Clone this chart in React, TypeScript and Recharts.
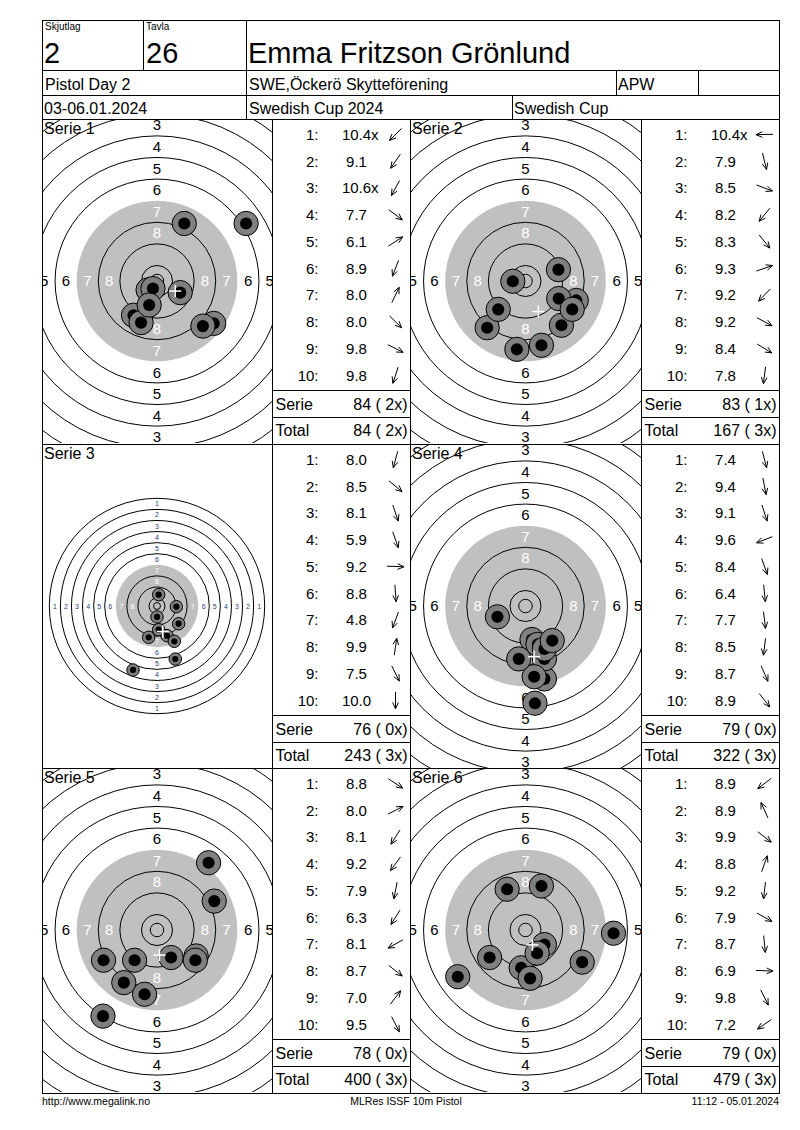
import React from 'react';
import { ScatterChart, Scatter, XAxis, YAxis } from 'recharts';

const FONT = '"Liberation Sans", Arial, Helvetica, sans-serif';

// ---------- target geometry (ISSF 10 m air pistol, mm) ----------
const RING_VALUES = [1, 2, 3, 4, 5, 6, 7, 8, 9, 10];
const RING_RADII_MM = [77.75, 69.75, 61.75, 53.75, 45.75, 37.75, 29.75, 21.75, 13.75, 5.75];
const INNER_TEN_RADIUS_MM = 2.5;
const PELLET_DIAMETER_MM = 4.5;
const LABELLED_RINGS = [1, 2, 3, 4, 5, 6, 7, 8];
const BLACK_FROM_RING = 7;

// ---------- header / footer texts ----------
const HEADER_SQUAD_LABEL = 'Skjutlag';
const HEADER_SQUAD = '2';
const HEADER_TARGET_LABEL = 'Tavla';
const HEADER_TARGET = '26';
const HEADER_NAME = 'Emma Fritzson Grönlund';
const HEADER_EVENT = 'Pistol Day 2';
const HEADER_CLUB = 'SWE,Öckerö Skytteförening';
const HEADER_CLASS = 'APW';
const HEADER_DATE = '03-06.01.2024';
const HEADER_COMPETITION = 'Swedish Cup 2024';
const HEADER_CUP = 'Swedish Cup';
const FOOTER_LEFT = 'http://www.megalink.no';
const FOOTER_CENTER = 'MLRes ISSF 10m Pistol';
const FOOTER_RIGHT = '11:12 - 05.01.2024';

// ---------- series ----------
const SERIES_TITLES = ['Serie 1', 'Serie 2', 'Serie 3', 'Serie 4', 'Serie 5', 'Serie 6'];
const SHOT_NUMBERS = [1, 2, 3, 4, 5, 6, 7, 8, 9, 10];

// shot positions relative to target centre, mm (x right, y up)
const serie1X = [-3.3, -8.7, -1.5, 21.0, 33.0, -5.9, 10.1, 17.0, 8.6, -2.9];
const serie1Y = [-3.3, -12.7, -2.8, -15.7, 21.3, -15.4, 21.3, -16.7, -4.3, -8.9];
const serie1Scores = ['10.4x', '9.1', '10.6x', '7.7', '6.1', '8.9', '8.0', '8.0', '9.8', '9.8'];

const serie2X = [-4.7, 5.9, 18.8, -14.2, 13.3, 12.2, -10.1, 12.3, 17.3, -3.2];
const serie2Y = [-0.1, -23.8, -7.2, -17.3, -16.4, 4.2, -10.5, -6.5, -10.5, -25.3];
const serie2Scores = ['10.4x', '7.9', '8.5', '8.2', '8.3', '9.3', '9.2', '9.2', '8.4', '7.8'];

const serie3X = [-6.0, 15.6, 7.2, 13.2, 14.0, 1.2, -17.3, 1.2, 12.5, 0.0];
const serie3Y = [-22.6, -12.8, -21.4, -38.3, -0.5, -17.1, -46.2, 8.2, -25.5, -7.9];
const serie3Scores = ['8.0', '8.5', '8.1', '5.9', '9.2', '8.8', '4.8', '9.9', '7.5', '10.0'];

const serie4X = [7.0, 2.4, 4.6, -10.4, 7.0, 3.5, 3.2, -2.5, 7.0, 9.9];
const serie4Y = [-27.0, -12.4, -14.2, -4.0, -19.6, -36.0, -26.2, -19.6, -15.9, -12.8];
const serie4Scores = ['7.4', '9.4', '9.1', '9.6', '8.4', '6.4', '7.7', '8.5', '8.7', '8.9'];

const serie5X = [14.5, 21.2, -12.3, -8.3, -4.6, -20.0, -19.8, 14.2, 19.1, 5.2];
const serie5Y = [-9.6, 10.7, -19.5, -11.2, -23.8, -31.9, -11.2, -11.2, 24.9, -10.2];
const serie5Scores = ['8.8', '8.0', '8.1', '9.2', '7.9', '6.3', '8.1', '8.7', '7.0', '9.5'];

const serie6X = [-13.3, -6.8, 7.0, 5.9, -1.6, 21.0, 1.7, 32.6, 4.3, -25.1];
const serie6Y = [-10.2, 15.1, -5.4, 16.3, -14.0, -11.9, -17.9, -1.2, -8.6, -17.3];
const serie6Scores = ['8.9', '8.9', '9.9', '8.8', '9.2', '7.9', '8.7', '6.9', '9.8', '7.2'];

const SERIES_X = [serie1X, serie2X, serie3X, serie4X, serie5X, serie6X];
const SERIES_Y = [serie1Y, serie2Y, serie3Y, serie4Y, serie5Y, serie6Y];
const SERIES_SCORES = [serie1Scores, serie2Scores, serie3Scores, serie4Scores, serie5Scores, serie6Scores];

// ---------- layout ----------
const TARGET_LEFT = [42.5, 410.5];
const SCORE_LEFT = [272.5, 641.5];
const SCORE_RIGHT = [410.5, 779.5];
const ROW_TOP = [119.5, 444.5, 768.5];
const PAGE_TOP = 20.5;
const PAGE_BOTTOM = 1093.5;
const PAGE_LEFT = 42.5;
const PAGE_RIGHT = 779.5;
const TARGET_PX_PER_MM = [2.7, 2.7, 1.385, 2.7, 2.7, 2.7];

const avg = (a: number[]) => a.reduce((s, v) => s + v, 0) / a.length;

function Target({ xs, ys, k, width, height }: { xs: number[]; ys: number[]; k: number; width: number; height: number }) {
  const xHalf = width / 2 / k;
  const yHalf = height / 2 / k;
  const rings = RING_RADII_MM.map((r, i) => ({ x: 0, y: 0, r, v: RING_VALUES[i] }));
  const innerTen = [{ x: 0, y: 0, r: INNER_TEN_RADIUS_MM, v: 11 }];
  const labels: { x: number; y: number; v: number }[] = [];
  LABELLED_RINGS.forEach((v) => {
    const i = RING_VALUES.indexOf(v);
    const m = (RING_RADII_MM[i] + RING_RADII_MM[i + 1]) / 2;
    labels.push({ x: -m, y: 0, v }, { x: m, y: 0, v }, { x: 0, y: m, v }, { x: 0, y: -m, v });
  });
  const shots = xs.map((x, i) => ({ x, y: ys[i] }));
  const mean = [{ x: avg(xs), y: avg(ys) }];
  const big = k > 2;
  const fs = big ? 15 : 7;

  const ringShape = (p: any) => {
    const { cx, cy, payload } = p;
    const r = payload.r * k;
    if (payload.v === BLACK_FROM_RING) {
      return <circle cx={cx} cy={cy} r={r} fill="#c0c0c0" stroke="none" />;
    }
    return (
      <circle
        cx={cx}
        cy={cy}
        r={r}
        fill={payload.v < BLACK_FROM_RING ? '#ffffff' : 'none'}
        stroke="#000"
        strokeWidth={1}
      />
    );
  };
  const labelShape = (p: any) => {
    const { cx, cy, payload } = p;
    const onBlack = payload.v >= BLACK_FROM_RING;
    return (
      <text
        x={cx}
        y={cy + fs * 0.36}
        textAnchor="middle"
        fontSize={fs}
        fontFamily={FONT}
        fill={onBlack ? '#ffffff' : big ? '#000' : '#2c3f78'}
      >
        {payload.v}
      </text>
    );
  };
  const shotShape = (p: any) => {
    const { cx, cy } = p;
    return (
      <g>
        <circle cx={cx} cy={cy} r={PELLET_DIAMETER_MM * k} fill="#808080" stroke="#000" strokeWidth={1} />
        <circle cx={cx} cy={cy} r={(PELLET_DIAMETER_MM / 2) * k} fill="#000" />
      </g>
    );
  };
  const meanShape = (p: any) => {
    const { cx, cy } = p;
    const s = 6;
    return (
      <g stroke="#fff" strokeWidth={1.5}>
        <line x1={cx - s} y1={cy} x2={cx + s} y2={cy} />
        <line x1={cx} y1={cy - s} x2={cx} y2={cy + s} />
      </g>
    );
  };

  return (
    <ScatterChart width={width} height={height} margin={{ top: 0, right: 0, bottom: 0, left: 0 }}>
      <XAxis type="number" dataKey="x" domain={[-xHalf, xHalf]} allowDataOverflow hide />
      <YAxis type="number" dataKey="y" domain={[-yHalf, yHalf]} allowDataOverflow hide />
      <Scatter data={rings} isAnimationActive={false} shape={ringShape} />
      <Scatter data={innerTen} isAnimationActive={false} shape={ringShape} />
      <Scatter data={labels} isAnimationActive={false} shape={labelShape} />
      <Scatter data={shots} isAnimationActive={false} shape={shotShape} />
      <Scatter data={mean} isAnimationActive={false} shape={meanShape} />
    </ScatterChart>
  );
}

function Arrow({ cx, cy, dx, dy }: { cx: number; cy: number; dx: number; dy: number }) {
  const phi = Math.atan2(-dy, dx); // screen angle
  const L = 8.5;
  const ux = Math.cos(phi);
  const uy = Math.sin(phi);
  const tx = cx + ux * L;
  const ty = cy + uy * L;
  const sx = cx - ux * L;
  const sy = cy - uy * L;
  const h = 7;
  const sp = 0.42;
  const a1 = phi + Math.PI + sp;
  const a2 = phi + Math.PI - sp;
  return (
    <g stroke="#000" strokeWidth={1} fill="none">
      <line x1={sx} y1={sy} x2={tx} y2={ty} />
      <line x1={tx} y1={ty} x2={tx + h * Math.cos(a1)} y2={ty + h * Math.sin(a1)} />
      <line x1={tx} y1={ty} x2={tx + h * Math.cos(a2)} y2={ty + h * Math.sin(a2)} />
    </g>
  );
}

function ScoreTable({ idx, cumTotal, cumX }: { idx: number; cumTotal: number; cumX: number }) {
  const col = idx % 2;
  const row = Math.floor(idx / 2);
  const x0 = SCORE_LEFT[col];
  const x1 = SCORE_RIGHT[col];
  const top = ROW_TOP[row];
  const scores = SERIES_SCORES[idx];
  const xs = SERIES_X[idx];
  const ys = SERIES_Y[idx];
  const sum = scores.reduce((s, v) => s + Math.floor(parseFloat(v)), 0);
  const nx = scores.filter((v) => v.endsWith('x')).length;
  return (
    <g fontFamily={FONT} fill="#000">
      {SHOT_NUMBERS.map((n, j) => {
        const cy = top + 15 + j * 26.75;
        const s = scores[j];
        const isX = s.endsWith('x');
        const num = isX ? s.slice(0, -1) : s;
        return (
          <g key={n}>
            <text x={x0 + 46} y={cy + 5.4} fontSize={15} textAnchor="end">
              {n}:
            </text>
            <text x={x0 + 84} y={cy + 5.4} fontSize={15} textAnchor="middle">
              {num}
            </text>
            {isX && (
              <text x={x0 + 98.6} y={cy + 5.4} fontSize={15}>
                x
              </text>
            )}
            <Arrow cx={x0 + 123} cy={cy} dx={xs[j]} dy={ys[j]} />
          </g>
        );
      })}
      <line x1={x0} y1={top + 271} x2={x1} y2={top + 271} stroke="#000" />
      <line x1={x0} y1={top + 298} x2={x1} y2={top + 298} stroke="#000" />
      <text x={x0 + 3} y={top + 290} fontSize={16}>
        Serie
      </text>
      <text x={x1 - 3} y={top + 290} fontSize={16} textAnchor="end">
        {`${sum} ( ${nx}x)`}
      </text>
      <text x={x0 + 3} y={top + 316} fontSize={16}>
        Total
      </text>
      <text x={x1 - 3} y={top + 316} fontSize={16} textAnchor="end">
        {`${cumTotal} ( ${cumX}x)`}
      </text>
    </g>
  );
}

export default function App() {
  let runTotal = 0;
  let runX = 0;
  const cumulative = SERIES_SCORES.map((scores) => {
    runTotal += scores.reduce((s, v) => s + Math.floor(parseFloat(v)), 0);
    runX += scores.filter((v) => v.endsWith('x')).length;
    return { total: runTotal, x: runX };
  });

  return (
    <div
      style={{
        position: 'absolute',
        left: 0,
        top: 0,
        width: 800,
        height: 1130,
        background: '#fff',
        fontFamily: FONT,
        overflow: 'hidden',
      }}
    >
      {SERIES_TITLES.map((t, i) => {
        const col = i % 2;
        const row = Math.floor(i / 2);
        const left = TARGET_LEFT[col] - 0.5;
        const width = SCORE_LEFT[col] - TARGET_LEFT[col];
        const top = ROW_TOP[row] - 0.5;
        const height = 324;
        return (
          <div key={t} style={{ position: 'absolute', left, top, width, height, overflow: 'hidden' }}>
            <Target xs={SERIES_X[i]} ys={SERIES_Y[i]} k={TARGET_PX_PER_MM[i]} width={width} height={height} />
          </div>
        );
      })}
      <svg
        width={800}
        height={1130}
        style={{ position: 'absolute', left: 0, top: 0, pointerEvents: 'none' }}
        fontFamily={FONT}
      >
        <g stroke="#000" strokeWidth={1} fill="none">
          <rect x={PAGE_LEFT} y={PAGE_TOP} width={PAGE_RIGHT - PAGE_LEFT} height={PAGE_BOTTOM - PAGE_TOP} />
          <line x1={PAGE_LEFT} y1={70.5} x2={PAGE_RIGHT} y2={70.5} />
          <line x1={PAGE_LEFT} y1={95.5} x2={PAGE_RIGHT} y2={95.5} />
          <line x1={PAGE_LEFT} y1={ROW_TOP[0]} x2={PAGE_RIGHT} y2={ROW_TOP[0]} />
          <line x1={143.5} y1={PAGE_TOP} x2={143.5} y2={70.5} />
          <line x1={246.5} y1={PAGE_TOP} x2={246.5} y2={ROW_TOP[0]} />
          <line x1={616.5} y1={70.5} x2={616.5} y2={95.5} />
          <line x1={698.5} y1={70.5} x2={698.5} y2={95.5} />
          <line x1={512.5} y1={95.5} x2={512.5} y2={ROW_TOP[0]} />
          <line x1={PAGE_LEFT} y1={ROW_TOP[1]} x2={PAGE_RIGHT} y2={ROW_TOP[1]} />
          <line x1={PAGE_LEFT} y1={ROW_TOP[2]} x2={PAGE_RIGHT} y2={ROW_TOP[2]} />
          {[SCORE_LEFT[0], SCORE_RIGHT[0], SCORE_LEFT[1]].map((x) => (
            <line key={x} x1={x} y1={ROW_TOP[0]} x2={x} y2={PAGE_BOTTOM} />
          ))}
        </g>
        <g fill="#000">
          <text x={45} y={30} fontSize={10}>{HEADER_SQUAD_LABEL}</text>
          <text x={146} y={30} fontSize={10}>{HEADER_TARGET_LABEL}</text>
          <text x={44} y={63} fontSize={29}>{HEADER_SQUAD}</text>
          <text x={146} y={63} fontSize={29}>{HEADER_TARGET}</text>
          <text x={248} y={63} fontSize={29}>{HEADER_NAME}</text>
          <text x={45} y={90} fontSize={16}>{HEADER_EVENT}</text>
          <text x={249} y={90} fontSize={16}>{HEADER_CLUB}</text>
          <text x={618} y={90} fontSize={16}>{HEADER_CLASS}</text>
          <text x={44} y={114} fontSize={16}>{HEADER_DATE}</text>
          <text x={249} y={114} fontSize={16}>{HEADER_COMPETITION}</text>
          <text x={514} y={114} fontSize={16}>{HEADER_CUP}</text>
          {SERIES_TITLES.map((t, i) => (
            <text
              key={t}
              x={TARGET_LEFT[i % 2] + 1.5}
              y={ROW_TOP[Math.floor(i / 2)] + 14}
              fontSize={16}
            >
              {t}
            </text>
          ))}
          <text x={42} y={1105} fontSize={10.5}>{FOOTER_LEFT}</text>
          <text x={406} y={1105} fontSize={10.5} textAnchor="middle">{FOOTER_CENTER}</text>
          <text x={779} y={1105} fontSize={10.5} textAnchor="end">{FOOTER_RIGHT}</text>
        </g>
        {SERIES_TITLES.map((t, i) => (
          <ScoreTable key={t} idx={i} cumTotal={cumulative[i].total} cumX={cumulative[i].x} />
        ))}
      </svg>
    </div>
  );
}
